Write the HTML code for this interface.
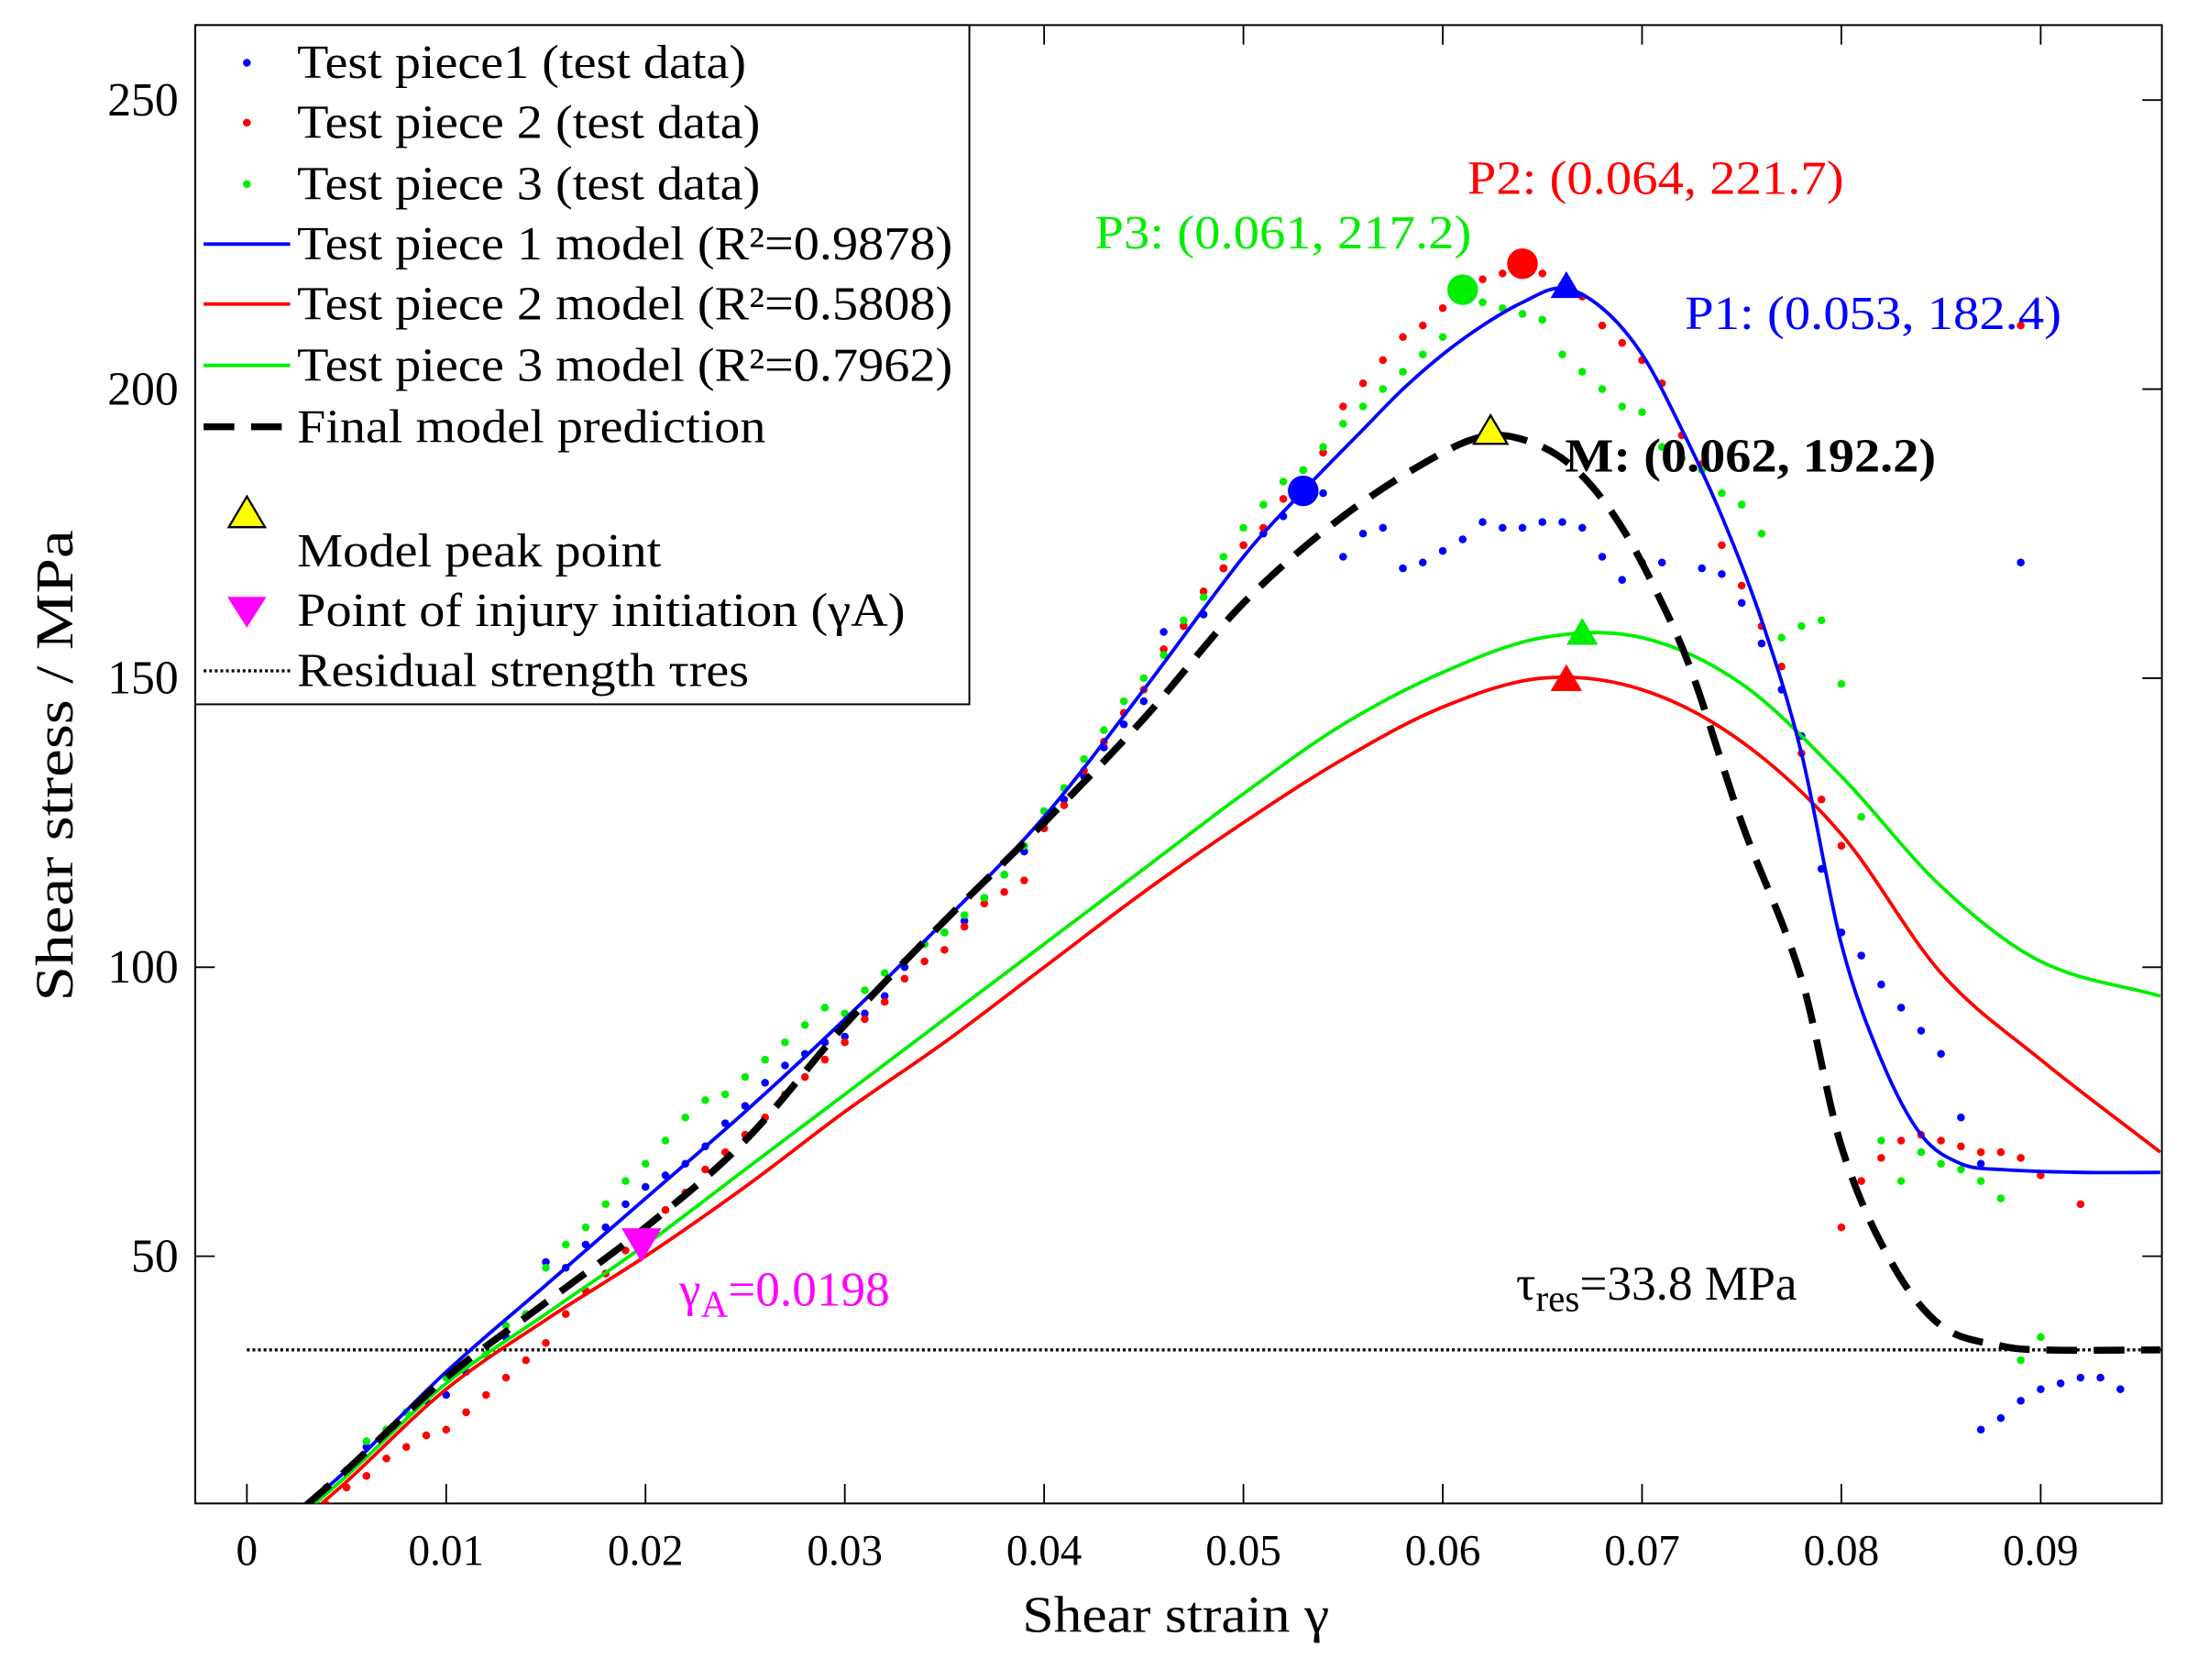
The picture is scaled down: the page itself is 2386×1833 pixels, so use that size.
<!DOCTYPE html>
<html><head><meta charset="utf-8"><style>
html,body{margin:0;padding:0;background:#fff}
svg{display:block}
text{font-family:"Liberation Serif",serif}
</style></head><body>
<svg id="chart" width="2386" height="1833" viewBox="0 0 1568 1204.6" xmlns="http://www.w3.org/2000/svg">
<defs><clipPath id="plotclip"><rect x="140" y="18" width="1410" height="1060"/></clipPath></defs>
<rect x="0" y="0" width="1568" height="1205" fill="#fff"/>
<g id="axes"></g>
<g id="plot" clip-path="url(#plotclip)"></g>
<g id="overlay"></g>
</svg>
<script>
const xTicks=[0,0.01,0.02,0.03,0.04,0.05,0.06,0.07,0.08,0.09];
const xTickLabels=["0","0.01","0.02","0.03","0.04","0.05","0.06","0.07","0.08","0.09"];
const yTicks=[50,100,150,200,250];
const yTickLabels=["50","100","150","200","250"];
const blueX=[0.004,0.005,0.006,0.007,0.008,0.009,0.010,0.011,0.012,0.013,0.014,0.015,0.016,0.017,0.018,0.019,0.020,0.021,0.022,0.023,0.024,0.025,0.026,0.027,0.028,0.029,0.030,0.031,0.032,0.033,0.034,0.035,0.036,0.037,0.038,0.039,0.040,0.041,0.042,0.043,0.044,0.045,0.046,0.047,0.048,0.049,0.050,0.051,0.052,0.054,0.055,0.056,0.057,0.058,0.059,0.060,0.061,0.062,0.063,0.064,0.065,0.066,0.067,0.068,0.069,0.070,0.071,0.073,0.074,0.075,0.076,0.077,0.078,0.079,0.080,0.081,0.082,0.083,0.084,0.085,0.086,0.087,0.089,0.087,0.088,0.089,0.090,0.091,0.092,0.093,0.094];
const blueY=[10,13,17,20,23,25,26,30,33,36,40,49,48,52,55,59,62,64,66,69,73,76,80,83,85,87,88,92,95,100,104,106,108,112,116,120,125,129,133,138,142,146,158,159,161,169,173,175,178,182,171,175,176,169,170,172,174,177,176,176,177,177,176,171,167,170,170,169,168,163,156,148,140,117,106,102,97,93,89,85,74,66,170,20,22,25,27,28,29,29,27];
const redX=[0.004,0.005,0.006,0.007,0.008,0.009,0.010,0.011,0.012,0.013,0.014,0.015,0.016,0.017,0.018,0.019,0.020,0.021,0.022,0.023,0.024,0.025,0.026,0.027,0.028,0.029,0.030,0.031,0.032,0.033,0.034,0.035,0.036,0.037,0.038,0.039,0.040,0.041,0.042,0.043,0.044,0.045,0.046,0.047,0.048,0.049,0.050,0.051,0.052,0.053,0.054,0.055,0.056,0.057,0.058,0.059,0.060,0.061,0.062,0.063,0.065,0.066,0.067,0.068,0.069,0.070,0.071,0.072,0.073,0.074,0.075,0.076,0.077,0.078,0.079,0.080,0.080,0.081,0.082,0.083,0.084,0.085,0.086,0.087,0.088,0.089,0.090,0.092,0.089];
const redY=[7,10,12,15,17,19,20,23,26,29,32,35,40,44,47,51,54,58,61,65,68,71,74,78,81,84,87,91,94,98,101,103,107,111,113,115,124,128,134,139,144,148,155,159,165,169,173,176,181,186,189,197,201,205,209,211,214,217,219,220,220,218,216,211,208,205,201,192,187,173,166,159,152,137,129,121,55,63,67,70,71,70,69,68,68,67,64,59,211];
const greenX=[0.006,0.007,0.008,0.009,0.010,0.011,0.012,0.013,0.014,0.015,0.016,0.017,0.018,0.019,0.020,0.021,0.022,0.023,0.024,0.025,0.026,0.027,0.028,0.029,0.030,0.031,0.032,0.033,0.034,0.035,0.036,0.037,0.038,0.039,0.040,0.041,0.042,0.043,0.044,0.045,0.046,0.047,0.048,0.049,0.050,0.051,0.052,0.053,0.054,0.055,0.056,0.057,0.058,0.059,0.060,0.062,0.063,0.064,0.065,0.066,0.067,0.068,0.069,0.070,0.071,0.072,0.073,0.074,0.075,0.076,0.077,0.078,0.079,0.080,0.081,0.082,0.083,0.084,0.085,0.086,0.087,0.088,0.089,0.090];
const greenY=[18,20,23,26,29,31,33,38,40,48,52,55,59,63,66,70,74,77,78,81,84,87,90,93,92,96,99,101,104,106,109,112,116,121,127,131,136,141,146,150,154,160,164,171,176,180,184,186,190,194,197,200,203,206,209,215,214,213,212,206,203,200,197,196,190,188,186,182,180,175,157,159,160,149,126,70,63,68,66,65,63,60,32,36];
const m1X=[0.003,0.005,0.01,0.015,0.02,0.025,0.03,0.035,0.04,0.045,0.05,0.053,0.056,0.058,0.06,0.062,0.064,0.066,0.068,0.070,0.072,0.074,0.076,0.078,0.080,0.082,0.084,0.086,0.088,0.092,0.096];
const m1Y=[7,13,30,45,60,75,91,108,126,148,171,182.4,193,200,206,211,215,217.5,214,206,193,178,160,137,104,84,71,66,65,64.5,64.5];
const m2X=[0.003,0.005,0.01,0.015,0.02,0.025,0.03,0.035,0.04,0.045,0.05,0.055,0.06,0.065,0.07,0.075,0.08,0.085,0.09,0.096];
const m2Y=[5,11,27,39,50,62,75,87,100,113,125,136,145,150,148,139,123,99,84,68];
const m3X=[0.003,0.005,0.01,0.015,0.02,0.025,0.03,0.035,0.04,0.045,0.05,0.055,0.06,0.065,0.07,0.075,0.08,0.085,0.09,0.096];
const m3Y=[6,12,28,40,52,65,78,91,104,117,130,142,151,157,157,149,133,114,101,95];
const mfX=[0.003,0.005,0.01,0.015,0.02,0.025,0.03,0.035,0.04,0.045,0.05,0.055,0.06,0.0625,0.065,0.067,0.069,0.071,0.0725,0.075,0.078,0.080,0.0825,0.085,0.088,0.090,0.096];
const mfY=[7,13,29,42,55,70,90,108,125,143,163,178,189,192,190,185,176,163,151,125,98,69,49,38,34.5,33.8,33.8];
const tauRes=33.8;

const X0=177,XPER=14290,YBASE=1108,YPER=4.145;
const sx=v=>X0+v*XPER, sy=v=>YBASE-v*YPER;
const NS="http://www.w3.org/2000/svg";
function mk(tag,attrs,parent){const e=document.createElementNS(NS,tag);for(const k in attrs)e.setAttribute(k,attrs[k]);parent.appendChild(e);return e;}
const axes=document.getElementById('axes'),plot=document.getElementById('plot'),ov=document.getElementById('overlay');

let box=mk('rect',{x:140,y:18,width:1410,height:1060,fill:'none',stroke:'#000','stroke-width':1.3},axes);


xTicks.forEach((t,i)=>{const x=sx(t);
 mk('line',{x1:x,y1:1078,x2:x,y2:1064,stroke:'#000','stroke-width':1.2},axes);
 mk('line',{x1:x,y1:18,x2:x,y2:32,stroke:'#000','stroke-width':1.2},axes);
 const tx=mk('text',{x:x,y:1122,'font-size':31,'text-anchor':'middle'},axes);tx.textContent=xTickLabels[i];
 
 });
yTicks.forEach((t,i)=>{const y=sy(t);
 mk('line',{x1:140,y1:y,x2:154,y2:y,stroke:'#000','stroke-width':1.2},axes);
 mk('line',{x1:1550,y1:y,x2:1536,y2:y,stroke:'#000','stroke-width':1.2},axes);
 const tx=mk('text',{x:128,y:y+11,'font-size':34,'text-anchor':'end'},axes);tx.textContent=yTickLabels[i];
 
 });
let xt=mk('text',{x:733,y:1170,'font-size':37,textLength:220,lengthAdjust:'spacingAndGlyphs'},axes);xt.textContent='Shear strain γ';


let yt=mk('text',{x:0,y:0,'font-size':38,textLength:338,lengthAdjust:'spacingAndGlyphs',transform:'translate(52,718) rotate(-90)'},axes);yt.textContent='Shear stress / MPa';



function smooth(xs,ys){const p=xs.map((x,i)=>[sx(x),sy(ys[i])]);let d='M'+p[0][0]+','+p[0][1];
 for(let i=0;i<p.length-1;i++){const p0=p[Math.max(0,i-1)],p1=p[i],p2=p[i+1],p3=p[Math.min(p.length-1,i+2)];
  const h=p2[0]-p1[0];
  const s1=(p2[1]-p0[1])/(p2[0]-p0[0]||1), s2=(p3[1]-p1[1])/(p3[0]-p1[0]||1);
  const c1=[p1[0]+h/3,p1[1]+s1*h/3],c2=[p2[0]-h/3,p2[1]-s2*h/3];
  d+=` C${c1[0]},${c1[1]} ${c2[0]},${c2[1]} ${p2[0]},${p2[1]}`;}return d;}

let tl=mk('line',{x1:sx(0),y1:sy(tauRes),x2:1550,y2:sy(tauRes),stroke:'#000','stroke-width':2.2,'stroke-dasharray':'2,2'},plot);


function dots(xs,ys,c,name){xs.forEach((x,i)=>{const e=mk('circle',{cx:sx(x),cy:sy(ys[i]),r:2.8,fill:c},plot);
 
 });}
dots(blueX,blueY,'#0000ff','test-piece-1-point');
dots(redX,redY,'#ff0000','test-piece-2-point');
dots(greenX,greenY,'#00ee00','test-piece-3-point');
let l3=mk('path',{d:smooth(m3X,m3Y),fill:'none',stroke:'#00ee00','stroke-width':2.5},plot);


let l2=mk('path',{d:smooth(m2X,m2Y),fill:'none',stroke:'#ff0000','stroke-width':2.5},plot);


let l1=mk('path',{d:smooth(m1X,m1Y),fill:'none',stroke:'#0000ff','stroke-width':2.5},plot);


let lf=mk('path',{d:smooth(mfX,mfY),fill:'none',stroke:'#000','stroke-width':5,'stroke-dasharray':'22,12'},plot);



function tri(x,y,s,c,down,name,par){const cx=sx(x),cy=sy(y);
 const pts=down?`${cx-s},${cy-s*0.85} ${cx+s},${cy-s*0.85} ${cx},${cy+s*0.85}`:`${cx-s},${cy+s*0.85} ${cx+s},${cy+s*0.85} ${cx},${cy-s*0.85}`;
 const e=mk('polygon',{points:pts,fill:c,stroke:c==='#ffff00'?'#000':c,'stroke-width':1.5},par);
 
 }
function circ(x,y,c,name){const e=mk('circle',{cx:sx(x),cy:sy(y),r:11,fill:c},plot);
 
 }
circ(0.053,182.4,'#0000ff','p1-marker');circ(0.064,221.7,'#ff0000','p2-marker');circ(0.061,217.2,'#00ee00','p3-marker');
tri(0.0662,218,10,'#0000ff',false,'test-piece-1-peak',plot);
tri(0.067,158,10,'#00ee00',false,'test-piece-3-peak',plot);
tri(0.0662,150,10,'#ff0000',false,'test-piece-2-peak',plot);
tri(0.0624,193,12,'#ffff00',false,'model-peak-marker',plot);
tri(0.0198,52,13,'#ff00ff',true,'injury-initiation-marker',plot);

function txt(x,y,s,c,str,name,bold,len){const a={x:x,y:y,'font-size':s,fill:c,'font-weight':bold?'bold':'normal'};
 if(len){a.textLength=len;a.lengthAdjust='spacingAndGlyphs';}
 const e=mk('text',a,ov);e.textContent=str;
 
 return e;}
txt(1052,139,34,'#ff0000','P2: (0.064, 221.7)','p2-label',false,270);
txt(785,178,34,'#00ee00','P3: (0.061, 217.2)','p3-label',false,270);
txt(1208,236,34,'#0000ff','P1: (0.053, 182.4)','p1-label',false,270);
txt(1122,338,34,'#000','M: (0.062, 192.2)','model-peak-label',true,266);
let ga=txt(487,936,35,'#ff00ff','γ','gamma-a-label');
ga.innerHTML='γ<tspan font-size="27" dy="8">A</tspan><tspan dy="-8">=0.0198</tspan>';
let tr=txt(1087,932,35,'#000','τ','tau-res-label');
tr.innerHTML='τ<tspan font-size="27" dy="8">res</tspan><tspan dy="-8">=33.8 MPa</tspan>';

// legend
const lg=mk('g',{},ov);


mk('rect',{x:140,y:18,width:555,height:487,fill:'#fff',stroke:'#000','stroke-width':1.3},lg);
const legLabels=['Test piece1 (test data)','Test piece 2 (test data)','Test piece 3 (test data)','Test piece 1 model (R²=0.9878)','Test piece 2 model (R²=0.5808)','Test piece 3 model (R²=0.7962)','Final model prediction'];
const legEnd=[535,545,545,683,683,683,549];
const legY=[45,88,132,175,218,262,306];
legLabels.forEach((s,i)=>{const y=legY[i];const g=mk('g',{},lg);
 
 
 if(i<3)mk('circle',{cx:177,cy:y,r:2.8,fill:['#0000ff','#ff0000','#00ee00'][i]},g);
 else if(i<6)mk('line',{x1:146,y1:y,x2:208,y2:y,stroke:['#0000ff','#ff0000','#00ee00'][i-3],'stroke-width':2.5},g);
 else mk('line',{x1:146,y1:y,x2:208,y2:y,stroke:'#000','stroke-width':5,'stroke-dasharray':'22,12'},g);
 const t=mk('text',{x:213,y:y+11,'font-size':34,textLength:legEnd[i]-213,lengthAdjust:'spacingAndGlyphs'},g);t.textContent=s;});
const g1=mk('g',{},lg);


mk('polygon',{points:'164,378 190,378 177,356',fill:'#ffff00',stroke:'#000','stroke-width':1.5},g1);
mk('text',{x:213,y:406,'font-size':34,textLength:261,lengthAdjust:'spacingAndGlyphs'},g1).textContent='Model peak point';
const g2=mk('g',{},lg);


mk('polygon',{points:'163,428 191,428 177,450',fill:'#ff00ff'},g2);
mk('text',{x:213,y:449,'font-size':34,textLength:436,lengthAdjust:'spacingAndGlyphs'},g2).textContent='Point of injury initiation (γA)';
const g3=mk('g',{},lg);


mk('line',{x1:146,y1:481,x2:208,y2:481,stroke:'#000','stroke-width':2.2,'stroke-dasharray':'2,2'},g3);
mk('text',{x:213,y:492,'font-size':34,textLength:324,lengthAdjust:'spacingAndGlyphs'},g3).textContent='Residual strength τres';
</script>
</body></html>
